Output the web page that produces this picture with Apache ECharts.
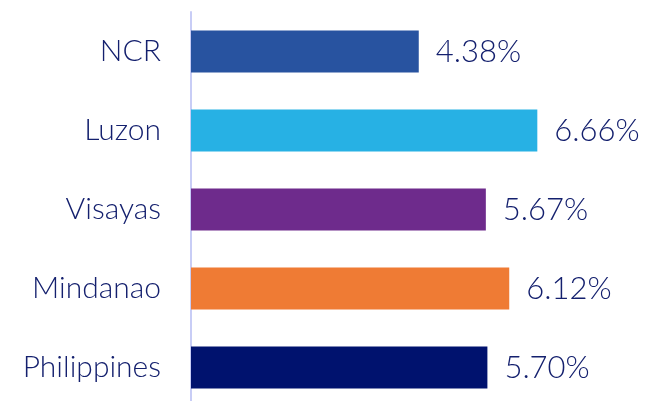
<!DOCTYPE html>
<html>
<head>
<meta charset="utf-8">
<script src="https://cdn.jsdelivr.net/npm/echarts@6/dist/echarts.min.js"></script>
<style>
  html, body { margin: 0; padding: 0; background: #fff; }
  #chart { width: 646px; height: 401px; }
</style>
</head>
<body>
<div id="chart"></div>
<script>
const regions = ['NCR', 'Luzon', 'Visayas', 'Mindanao', 'Philippines']
const rates = [4.38, 6.66, 5.67, 6.12, 5.70]
const barColors = ['#2853a0', '#27b1e4', '#6e2b8c', '#ef7b34', '#00126e']

const textColor = '#14206e'
const font = 'Lato'

const chart = echarts.init(document.getElementById('chart'))

chart.setOption({
  animation: false,
  grid: {
    left: 191,
    top: 12,
    width: 416,
    height: 395,
    outerBoundsMode: 'none',
    containLabel: false
  },
  xAxis: {
    type: 'value',
    min: 0,
    max: 8,
    show: false
  },
  yAxis: {
    type: 'category',
    data: regions,
    inverse: true,
    axisLine: {
      lineStyle: { color: '#c8cdf6', width: 2 }
    },
    axisTick: { show: false },
    axisLabel: {
      margin: 30,
      fontSize: 30,
      fontWeight: 300,
      fontFamily: font,
      color: textColor
    }
  },
  series: [
    {
      type: 'bar',
      barWidth: 42,
      data: rates.map((v, i) => ({
        value: v,
        itemStyle: { color: barColors[i] }
      })),
      label: {
        show: true,
        position: 'right',
        distance: 17,
        fontSize: 31,
        fontWeight: 300,
        fontFamily: font,
        color: textColor,
        formatter: p => p.value.toFixed(2) + '%'
      }
    }
  ]
})
</script>
</body>
</html>
